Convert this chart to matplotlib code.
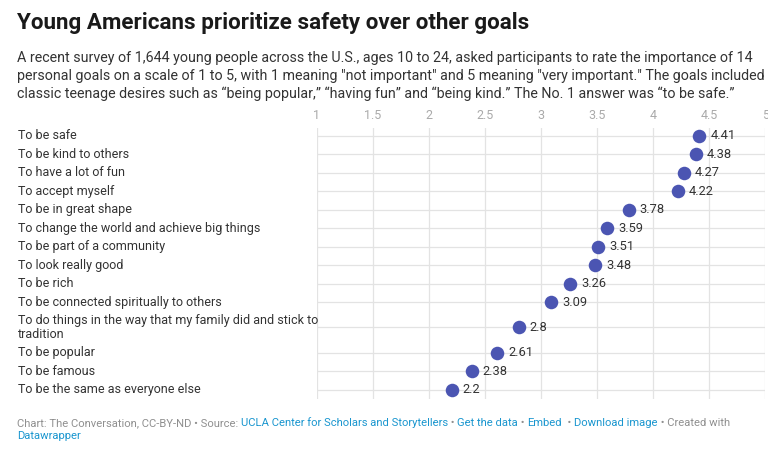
import matplotlib
matplotlib.use("Agg")
import matplotlib.pyplot as plt
import matplotlib.transforms as mtransforms

plt.rcParams['font.family'] = ['Roboto', 'DejaVu Sans']

# data
goals = [
    "To be safe",
    "To be kind to others",
    "To have a lot of fun",
    "To accept myself",
    "To be in great shape",
    "To change the world and achieve big things",
    "To be part of a community",
    "To look really good",
    "To be rich",
    "To be connected spiritually to others",
    "To do things in the way that my family did and stick to\ntradition",
    "To be popular",
    "To be famous",
    "To be the same as everyone else",
]
scores = [4.41, 4.38, 4.27, 4.22, 3.78, 3.59, 3.51, 3.48, 3.26, 3.09, 2.8, 2.61, 2.38, 2.2]
score_labels = ["4.41", "4.38", "4.27", "4.22", "3.78", "3.59", "3.51", "3.48",
                "3.26", "3.09", "2.8", "2.61", "2.38", "2.2"]
xticks = [1, 1.5, 2, 2.5, 3, 3.5, 4, 4.5, 5]
xtick_labels = ["1", "1.5", "2", "2.5", "3", "3.5", "4", "4.5", "5"]

title = "Young Americans prioritize safety over other goals"
subtitle = [
    "A recent survey of 1,644 young people across the U.S., ages 10 to 24, asked participants to rate the importance of 14",
    "personal goals on a scale of 1 to 5, with 1 meaning \"not important\" and 5 meaning \"very important.\" The goals included",
    "classic teenage desires such as \u201cbeing popular,\u201d \u201chaving fun\u201d and \u201cbeing kind.\u201d The No. 1 answer was \u201cto be safe.\u201d",
]

W, H = 768, 449
DOT = "#4b55b2"
GRID = "#e3e3e3"
GRAY = "#8f8f8f"
LINK = "#1a96cf"
TXT = "#333333"

# row layout (pixels from top)
row_h = 18.5
extra_line = 13.5
top = 126.5
centers = []
for g in goals:
    h = row_h + extra_line * g.count("\n")
    centers.append(top + h / 2)
    top += h
bottom = top

fig = plt.figure(figsize=(W / 100, H / 100), dpi=100)
ax_left, ax_right = 317, 765.4
ax = fig.add_axes([ax_left / W, 1 - bottom / H, (ax_right - ax_left) / W, (bottom - 128) / H])
ax.set_xlim(1, 5)
ax.set_ylim(bottom, 128)

for s in ax.spines.values():
    s.set_visible(False)
ax.set_xticks(xticks)
ax.set_xticklabels(xtick_labels)
ax.set_yticks(centers)
ax.set_yticklabels([])
ax.tick_params(axis='both', length=0)
ax.tick_params(axis='x', labeltop=True, labelbottom=False, colors="#aaaaaa", labelsize=9, pad=4)
ax.grid(True, color=GRID, linewidth=0.9)
ax.set_axisbelow(True)

ax.scatter(scores, centers, s=95, color=DOT, zorder=3, linewidths=0)
for v, y, lab in zip(scores, centers, score_labels):
    ax.annotate(lab, (v, y), xytext=(8, 0), textcoords='offset points',
                va='center', ha='left', fontsize=9.3, color=TXT)

lab_trans = mtransforms.blended_transform_factory(fig.transFigure, ax.transData)
for g, y in zip(goals, centers):
    fig.text(18 / W, y, g, transform=lab_trans, va='center', ha='left',
             fontsize=9, color=TXT, linespacing=1.05)

fig.text(17 / W, 1 - 23 / H, title, fontsize=16.1, fontweight='bold', color="#1a1a1a",
         va='center', ha='left')
for i, line in enumerate(subtitle):
    fig.text(17 / W, 1 - (58 + 18 * i) / H, line, fontsize=10.3, color=TXT,
             va='center', ha='left')

# footer, pieces chained so each starts where the previous one ends
parts = [
    ("Chart: The Conversation, CC-BY-ND \u2022 Source: ", GRAY),
    ("UCLA Center for Scholars and Storytellers", LINK),
    (" \u2022 ", GRAY),
    ("Get the data", LINK),
    (" \u2022 ", GRAY),
    ("Embed", LINK),
    ("  \u2022 ", GRAY),
    ("Download image", LINK),
    (" \u2022 Created with", GRAY),
]
t = fig.text(17 / W, 1 - 423 / H, parts[0][0], fontsize=8.1, color=parts[0][1],
             va='center', ha='left')
for txt, col in parts[1:]:
    t = ax.annotate(txt, xy=(1, 0.5), xycoords=t, va='center', ha='left',
                    fontsize=8.1, color=col, annotation_clip=False)
fig.text(17 / W, 1 - 436 / H, "Datawrapper", fontsize=8.1, color=LINK,
         va='center', ha='left')

fig.savefig("out.png", dpi=100)
